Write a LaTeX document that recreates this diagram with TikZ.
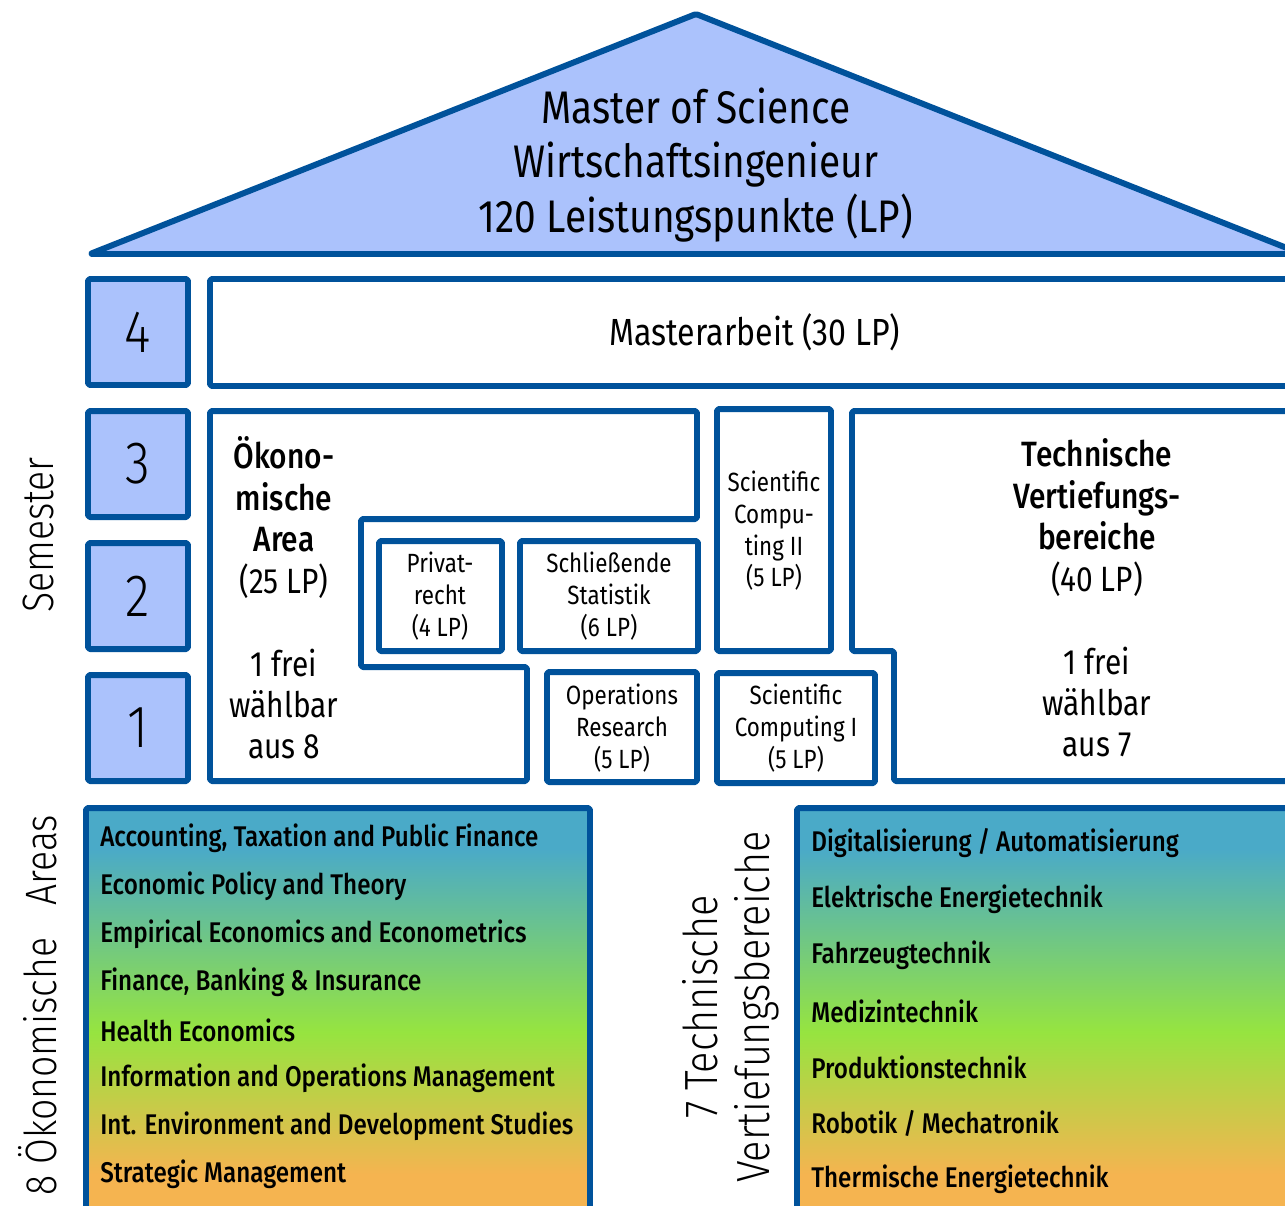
\documentclass[tikz,border=0pt]{standalone}
\usepackage{fontspec}
\setmainfont{Fira Sans}[BoldFont=* Medium, FakeStretch=0.85]
\newfontfamily\lightfont{Fira Sans Light}[FakeStretch=0.85]

\definecolor{hsblue}{HTML}{00529B}
\definecolor{hslight}{HTML}{ABC2FC}
\definecolor{gradblue}{HTML}{4AAAC8}
\definecolor{gradgreen}{HTML}{96E440}
\definecolor{gradorange}{HTML}{F5B450}
% tikz maps the middle 50bp of a shading onto the path
\pgfdeclareverticalshading{areashade}{100bp}{color(0bp)=(gradorange); color(30bp)=(gradorange);
  color(47.5bp)=(gradgreen); color(70bp)=(gradblue); color(100bp)=(gradblue)}

\tikzset{
  wall/.style={draw=hsblue, line width=3.4pt, rounded corners=1pt},
  sembox/.style={wall, fill=hslight},
  listbox/.style={wall, shading=areashade},
  label/.style={inner sep=0pt, align=center},
  modtext/.style={label, font=\fontsize{15}{18}\selectfont},
  areatext/.style={label, font=\fontsize{20}{23.6}\selectfont},
  sidetext/.style={label, rotate=90, font=\lightfont\fontsize{25}{29.5}\selectfont},
  itemtext/.style={inner sep=0pt, anchor=west, font=\bfseries\fontsize{16.2}{19}\selectfont},
}

\begin{document}
\begin{tikzpicture}[x=0.02cm, y=-0.02cm, line join=round]
  \useasboundingbox (0,0) rectangle (1285,1205);
  \clip (0,0) rectangle (1285,1205);

  % Roof.
  \draw[sembox] (90,254) -- (696,14) -- (1302,254) -- cycle;
  \node[label, font=\fontsize{26}{31.2}\selectfont] (roof) at (696,165)
    {Master of Science\\Wirtschaftsingenieur\\120 Leistungspunkte (LP)};

  % Semester column.
  \foreach \s/\y in {4/332, 3/464, 2/596, 1/728} {
    \draw[sembox] (88,\y-53) rectangle (188,\y+53);
    \node[label, font=\lightfont\fontsize{34}{40}\selectfont] (sem\s) at (138,\y) {\s};
  }
  \node[sidetext] (semester) at (38,535) {Semester};

  % Semester 4.
  \draw[wall] (210,279) rectangle (1300,386);
  \node[label, font=\fontsize{21.5}{25}\selectfont] (thesis) at (755,332) {Masterarbeit (30 LP)};

  % Economic area.
  \draw[wall] (210,411) -- (697,411) -- (697,519) -- (361,519) -- (361,667)
    -- (527,667) -- (527,781) -- (210,781) -- cycle;
  \node[areatext] (oeko) at (284,598)
    {\textbf{Ökono-}\\\textbf{mische}\\\textbf{Area}\\(25 LP)\\[23.6pt]1 frei\\wählbar\\aus 8};

  % Compulsory modules.
  \draw[wall] (379,541) rectangle (502,651);
  \node[modtext] (privat) at (440,596) {Privat-\\recht\\(4 LP)};
  \draw[wall] (520,541) rectangle (698,651);
  \node[modtext] (statistik) at (609,596) {Schließende\\Statistik\\(6 LP)};
  \draw[wall] (547,672) rectangle (697,782);
  \node[modtext] (opres) at (622,728) {Operations\\Research\\(5 LP)};
  \draw[wall] (717,409) rectangle (831,651);
  \node[modtext] (scicomptwo) at (774,531) {Scientific\\Compu-\\ting II\\(5 LP)};
  \draw[wall] (717,673) rectangle (875,783);
  \node[modtext] (scicompone) at (796,728) {Scientific\\Computing I\\(5 LP)};

  % Technical area.
  \draw[wall] (852,411) -- (1300,411) -- (1300,781) -- (894,781) -- (894,651)
    -- (852,651) -- cycle;
  \node[areatext] (tech) at (1097,598)
    {\textbf{Technische}\\\textbf{Vertiefungs-}\\\textbf{bereiche}\\(40 LP)\\[23.6pt]1 frei\\wählbar\\aus 7};

  % Lists of areas.
  \draw[listbox] (86,808) rectangle (590,1215);
  \node[sidetext] (oekolist) at (38,1005) {8 Ökonomische\hspace{0.5em} Areas};
  \foreach \t [count=\i from 0] in {Accounting{,} Taxation and Public Finance,
      Economic Policy and Theory, Empirical Economics and Econometrics,
      Finance{,} Banking \& Insurance, Health Economics,
      Information and Operations Management,
      Int. Environment and Development Studies, Strategic Management}
    \node[itemtext] (oeko\i) at (100,838+48*\i) {\t};

  \draw[listbox] (797,808) rectangle (1300,1215);
  \node[sidetext, font=\lightfont\fontsize{26.5}{29.5}\selectfont] (techlist) at (731,1007)
    {7 Technische\\Vertiefungsbereiche};
  \foreach \t [count=\i from 0] in {Digitalisierung / Automatisierung,
      Elektrische Energietechnik, Fahrzeugtechnik, Medizintechnik,
      Produktionstechnik, Robotik / Mechatronik, Thermische Energietechnik}
    \node[itemtext] (tech\i) at (811,843+56*\i) {\t};
\end{tikzpicture}
\end{document}
